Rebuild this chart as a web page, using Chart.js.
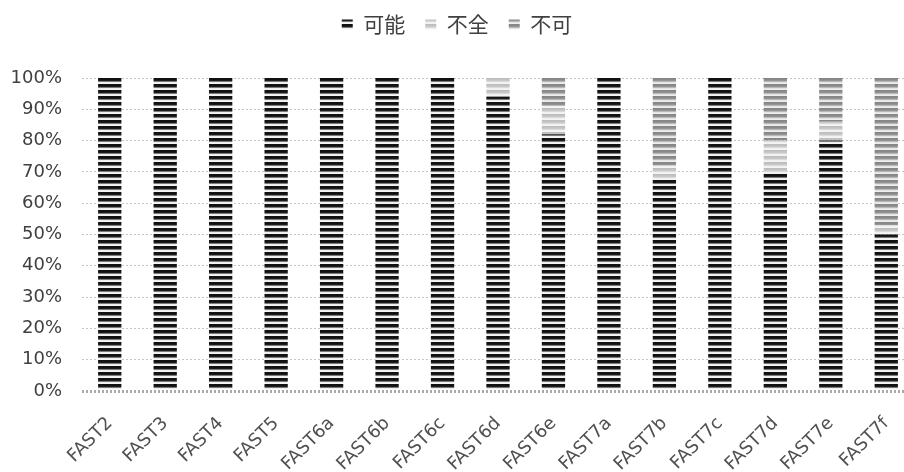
<!DOCTYPE html>
<html>
<head>
<meta charset="utf-8">
<script src="https://cdn.jsdelivr.net/npm/chart.js@4.4.1/dist/chart.umd.min.js"></script>
<style>
  html, body { margin: 0; padding: 0; background: #ffffff; overflow: hidden; }
  #wrap { width: 904px; height: 472px; overflow: hidden; }
</style>
</head>
<body>
<div id="wrap"><canvas id="c" width="914" height="472"></canvas></div>
<script>
// Categories and percentage shares per group
const categories = ['FAST2', 'FAST3', 'FAST4', 'FAST5', 'FAST6a', 'FAST6b', 'FAST6c', 'FAST6d',
                    'FAST6e', 'FAST7a', 'FAST7b', 'FAST7c', 'FAST7d', 'FAST7e', 'FAST7f'];
const seriesNames = ['可能', '不全', '不可'];
const kanou  = [100, 100, 100, 100, 100, 100, 100, 94, 82, 100, 68, 100, 70, 80, 50];
const fuzen  = [0, 0, 0, 0, 0, 0, 0, 6, 9, 0, 4, 0, 10, 6, 3];
const fuka   = [0, 0, 0, 0, 0, 0, 0, 0, 9, 0, 28, 0, 20, 14, 47];
const yTicks = [0, 10, 20, 30, 40, 50, 60, 70, 80, 90, 100];

// Horizontal hatch fills
function stripes(rows) {
  const cv = document.createElement('canvas');
  cv.width = 4; cv.height = rows.length;
  const g = cv.getContext('2d');
  rows.forEach((col, i) => { g.fillStyle = col; g.fillRect(0, i, 4, 1); });
  return g.createPattern(cv, 'repeat');
}
const fillKanou = stripes(['#111111', '#111111', '#1c1c1c', '#7a7a7a', '#eeeeee', '#f4f4f4']);
const fillFuzen = stripes(['#bdbdbd', '#c2c2c2', '#c8c8c8', '#dadada', '#f1f1f1', '#f4f4f4']);
const fillFuka  = stripes(['#858585', '#8a8a8a', '#939393', '#b8b8b8', '#e4e4e4', '#eeeeee']);

const fills = [fillKanou, fillFuzen, fillFuka];
const values = [kanou, fuzen, fuka];

const datasets = seriesNames.map((name, i) => ({
  label: name,
  data: values[i],
  backgroundColor: fills[i],
  borderWidth: 0,
  categoryPercentage: 1.0,
  barPercentage: 0.42
}));

new Chart(document.getElementById('c'), {
  type: 'bar',
  data: { labels: categories, datasets },
  options: {
    responsive: false,
    animation: false,
    devicePixelRatio: 1,
    layout: { padding: { left: 0, right: 0, top: -6, bottom: 0 } },
    plugins: {
      tooltip: { enabled: false },
      legend: {
        position: 'top',
        align: 'center',
        labels: {
          boxWidth: 11,
          boxHeight: 10,
          padding: 20,
          color: '#404040',
          font: { family: '"Noto Sans CJK JP", "Noto Sans", sans-serif', size: 21 }
        }
      },
      // empty spacer between legend and plot
      title: {
        display: true,
        text: '',
        position: 'top',
        weight: 500,
        padding: { top: 0, bottom: 23 },
        font: { size: 10, lineHeight: 1 }
      }
    },
    scales: {
      x: {
        stacked: true,
        grid: { display: false },
        border: { display: false },
        ticks: {
          autoSkip: false,
          minRotation: 45,
          maxRotation: 45,
          padding: 14,
          color: '#505050',
          font: { family: '"DejaVu Sans", sans-serif', size: 18 }
        },
        afterFit: (s) => { s.height = 81; s.paddingLeft = 0; s.paddingRight = 0; }
      },
      y: {
        stacked: true,
        min: 0,
        max: 100,
        afterBuildTicks: (s) => { s.ticks = yTicks.map(v => ({ value: v })); },
        grid: {
          drawTicks: false,
          color: (ctx) => ctx.tick && ctx.tick.value === 0 ? '#a9a9a9' : '#c6c6c6',
          lineWidth: (ctx) => ctx.tick && ctx.tick.value === 0 ? 3 : 1
        },
        border: { display: false, dash: [2, 2] },
        ticks: {
          padding: 20,
          color: '#404040',
          font: { family: '"DejaVu Sans", sans-serif', size: 18 },
          callback: (v) => v + '%'
        },
        afterFit: (s) => { s.width = 82; }
      }
    }
  }
});
</script>
</body>
</html>
